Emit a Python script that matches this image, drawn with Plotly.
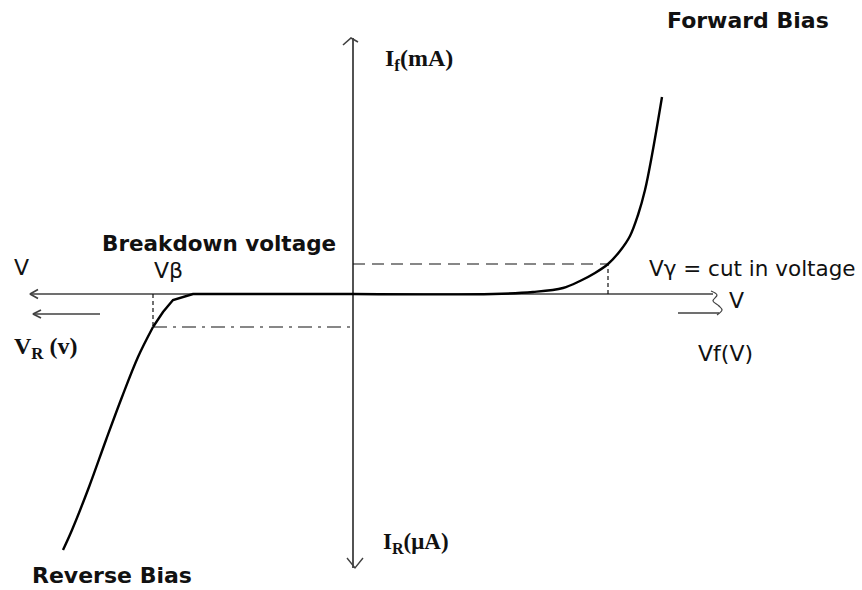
import plotly.graph_objects as go

# ---- data (units: arbitrary, origin at axis crossing) ----
knee_v = [-20.0, -19.0, -18.0, -16.0, 0.0]
knee_i = [-3.3, -1.8, -0.6, 0.0, 0.0]
brk_line_v = [-29.0, -28.1, -26.4, -24.7, -23.1, -21.5, -20.0]
brk_line_i = [-25.6, -23.6, -19.3, -14.6, -10.3, -6.3, -3.3]
fwd_v = [0.0, 14.0, 18.0, 21.0, 22.7, 24.2, 25.5, 26.7, 27.7, 28.5, 29.2, 29.9, 30.9]
fwd_i = [0.0, 0.0, 0.2, 0.6, 1.3, 2.1, 3.0, 4.3, 5.8, 7.9, 10.4, 13.9, 19.7]

cutin_v, cutin_i = 25.5, 3.0          # cut-in point
brk_v, brk_i = -20.0, -3.3            # breakdown point

x_axis = [-32.3, 36.0]
y_axis = [25.6, -27.4]

X_RANGE = [-35.3, 50.9]
Y_RANGE = [-29.6, 29.4]

fig = go.Figure()

AX = "#404040"

def seg(xs, ys, color=AX, width=1.7, dash="solid", shape="linear"):
    fig.add_trace(go.Scatter(x=xs, y=ys, mode="lines", hoverinfo="skip",
                             line=dict(color=color, width=width, dash=dash, shape=shape),
                             showlegend=False))

# axes
seg(x_axis, [0, 0])
seg([0, 0], y_axis, width=1.8)
# axis arrowheads
seg([x_axis[0] + 0.8, x_axis[0], x_axis[0] + 0.8], [0.45, 0, -0.45])
seg([-1.0, -0.2, 0.5], [24.9, 25.6, 25.2], width=1.6)
seg([-0.6, 0.2, 1.0], [-26.4, -27.4, -26.4], width=1.4)
# squiggle at right end
seg([35.8, 36.4, 36.0, 36.6, 36.9, 36.4], [0.3, -0.1, -0.7, -1.2, -1.6, -2.1],
    width=1.2, shape="spline")
# small direction arrows
seg([-25.3, -32.0], [-2.0, -2.0])
seg([-31.2, -32.0, -31.2], [-1.6, -2.0, -2.4])
seg([32.5, 36.6], [-1.9, -1.9])

# dashed guides
seg([0, cutin_v], [cutin_i, cutin_i], color="#111", width=1.2, dash="12px,7px")
seg([cutin_v, cutin_v], [0, cutin_i], color="#111", width=1.2, dash="4px,3px")
seg([brk_v, 0], [brk_i, brk_i], color="#111", width=1.2, dash="14px,6px,3px,6px")
seg([brk_v, brk_v], [0, brk_i], color="#111", width=1.2, dash="4px,3px")

# characteristic curve
seg(brk_line_v, brk_line_i, color="#000", width=2.4, shape="spline")
seg(knee_v, knee_i, color="#000", width=2.4)
seg(fwd_v, fwd_i, color="#000", width=2.4, shape="spline")

SANS = "DejaVu Sans"
SERIF = "Liberation Serif"

labels = [
    ("<b>Forward Bias</b>", 39.45, 27.4, SANS, 22),
    ("<b>Reverse Bias</b>", -24.1, -28.1, SANS, 22),
    ("<b>Breakdown voltage</b>", -13.4, 5.1, SANS, 21.5),
    ("Vβ", -18.5, 2.4, SANS, 22),
    ("V", -33.2, 2.7, SANS, 22),
    ("Vγ = cut in voltage", 39.9, 2.6, SANS, 21.5),
    ("V", 38.3, -0.6, SANS, 22),
    ("Vf(V)", 37.2, -5.9, SANS, 22),
    ("<b>V<sub>R</sub> (v)</b>", -30.8, -5.4, SERIF, 24),
    ("<b>I<sub>f</sub>(mA)</b>", 6.6, 23.4, SERIF, 24),
    ("<b>I<sub>R</sub>(μA)</b>", 6.3, -24.9, SERIF, 23),
]
for txt, x, y, fam, size in labels:
    fig.add_annotation(x=x, y=y, text=txt, showarrow=False, xanchor="center",
                       yanchor="middle", font=dict(family=fam, size=size, color="#111"))

fig.update_layout(
    width=862, height=590, margin=dict(l=0, r=0, t=0, b=0),
    paper_bgcolor="white", plot_bgcolor="white",
    xaxis=dict(range=X_RANGE, visible=False, fixedrange=True),
    yaxis=dict(range=Y_RANGE, visible=False, fixedrange=True),
)
fig.write_html("out.html", post_script="document.body.style.margin='0';",
               config={"displayModeBar": False})
